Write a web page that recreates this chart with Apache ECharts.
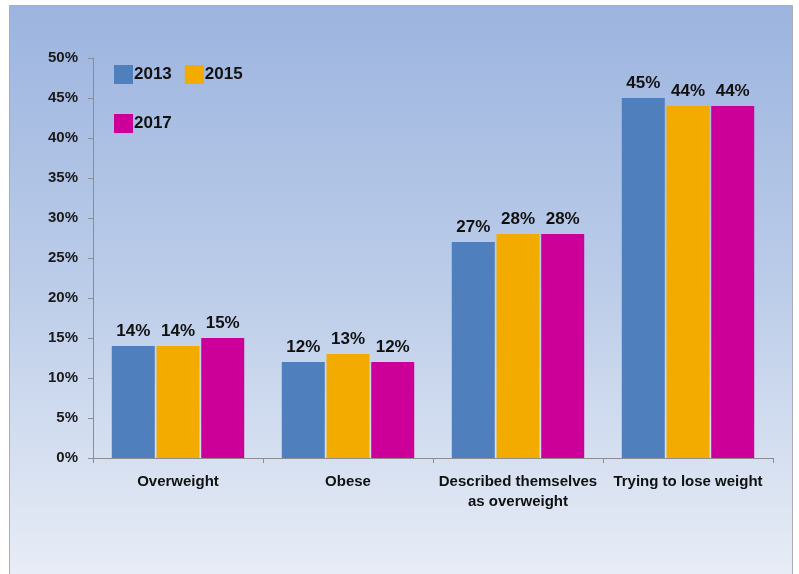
<!DOCTYPE html>
<html>
<head>
<meta charset="utf-8">
<script src="https://cdn.jsdelivr.net/npm/echarts@6/dist/echarts.min.js"></script>
<style>
  html, body { margin: 0; padding: 0; background: #ffffff; }
  #chart { width: 799px; height: 574px; }
</style>
</head>
<body>
<div id="chart"></div>
<script>
// Survey categories and the percentages for each survey year
const categories = ['Overweight', 'Obese', 'Described themselves\nas overweight', 'Trying to lose weight'];
const years = ['2013', '2015', '2017'];
const values2013 = [14, 12, 27, 45];
const values2015 = [14, 13, 28, 44];
const values2017 = [15, 12, 28, 44];
const yTicks = { min: 0, max: 50, step: 5 };

const colors = ['#4f80bd', '#f4ab00', '#cc0099'];
const font = '"Liberation Sans", Arial, sans-serif';

const chart = echarts.init(document.getElementById('chart'), null, { renderer: 'canvas' });

const seriesData = [values2013, values2015, values2017];
const legendText = {
  fontFamily: font, fontWeight: 'bold', fontSize: 17, color: '#111',
  padding: [0, 0, 0, -4]
};

chart.setOption({
  animation: false,
  graphic: [{
    type: 'rect',
    z: -10,
    shape: { x: 9.5, y: 5.5, width: 783, height: 570 },
    style: {
      fill: new echarts.graphic.LinearGradient(0, 0, 0, 1, [
        { offset: 0, color: '#9cb4df' },
        { offset: 0.5, color: '#bccde9' },
        { offset: 1, color: '#e8edf6' }
      ]),
      stroke: '#a9adb5',
      lineWidth: 1
    }
  }],
  legend: [{
    data: ['2013', '2015'],
    left: 109,
    top: 60,
    itemWidth: 19,
    itemHeight: 19,
    itemGap: 13,
    icon: 'rect',
    textStyle: legendText
  }, {
    data: ['2017'],
    left: 109,
    top: 109,
    itemWidth: 19,
    itemHeight: 19,
    icon: 'rect',
    textStyle: legendText
  }],
  grid: { left: 93, right: 26, top: 58, bottom: 116, containLabel: false },
  xAxis: {
    type: 'category',
    data: categories,
    axisLine: { lineStyle: { color: '#8a8d92', width: 1 } },
    axisTick: { show: true, length: 5, lineStyle: { color: '#8a8d92' } },
    axisLabel: {
      margin: 14,
      fontFamily: font, fontWeight: 'bold', fontSize: 15, color: '#111',
      lineHeight: 20, interval: 0
    }
  },
  yAxis: {
    type: 'value',
    min: yTicks.min,
    max: yTicks.max,
    interval: yTicks.step,
    axisLine: { show: true, lineStyle: { color: '#8a8d92', width: 1 } },
    axisTick: { show: true, length: 5, lineStyle: { color: '#8a8d92' } },
    splitLine: { show: false },
    axisLabel: {
      formatter: '{value}%',
      margin: 15,
      fontFamily: font, fontWeight: 'bold', fontSize: 15, color: '#1a1a1a'
    }
  },
  series: years.map((y, i) => ({
    name: y,
    type: 'bar',
    data: seriesData[i],
    barWidth: 43,
    barGap: '4%',
    itemStyle: { color: colors[i] },
    label: {
      show: true,
      position: 'top',
      distance: 6,
      formatter: '{c}%',
      fontFamily: font, fontWeight: 'bold', fontSize: 17, color: '#111'
    }
  }))
});
</script>
</body>
</html>
